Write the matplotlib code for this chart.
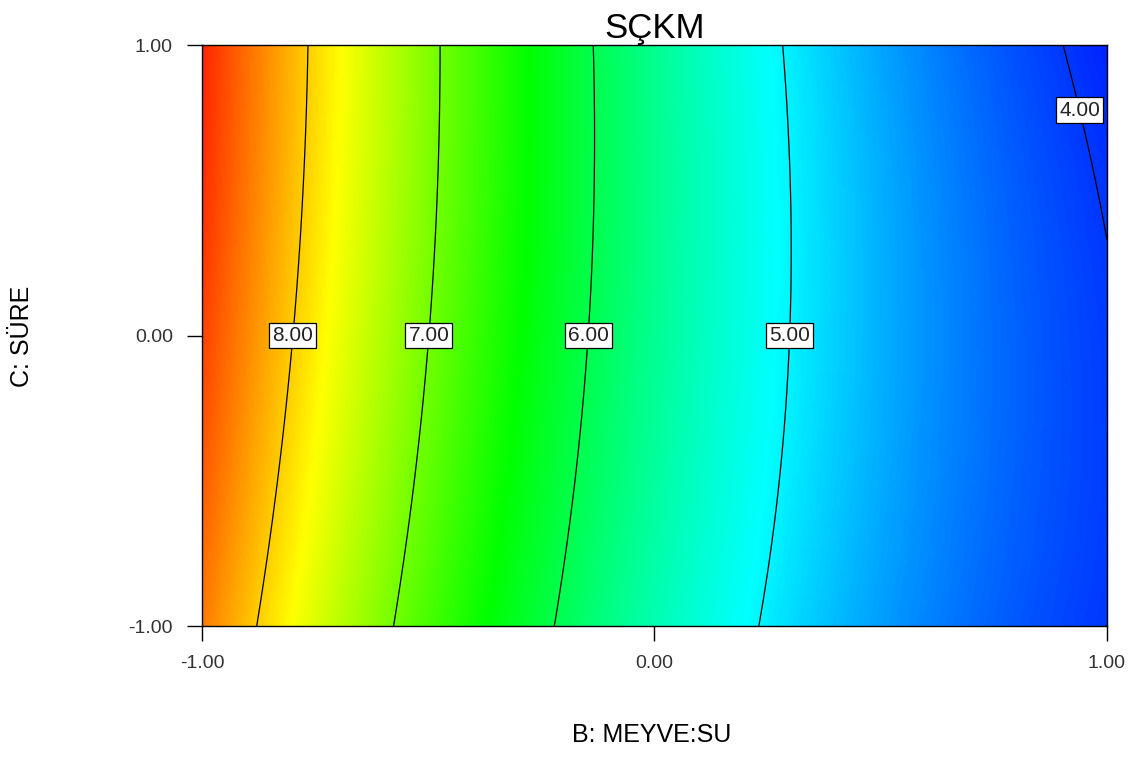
import numpy as np
import matplotlib
matplotlib.use('Agg')
import matplotlib.pyplot as plt
from matplotlib.colors import LinearSegmentedColormap

# quadratic model in coded units, read off the contour positions
# terms: intercept, B, C, B^2, C^2, BC
coef_names = ['b0', 'B', 'C', 'BB', 'CC', 'BC']
coef_vals = [5.638, -2.359, 0.088, 0.7466, -0.078, -0.140]
levels = [4.0, 5.0, 6.0, 7.0, 8.0]
# label spots (B, C) for each contour line
label_pos = [(0.95, 0.78), (0.30, 0.0), (-0.143, 0.0), (-0.496, 0.0), (-0.80, 0.0)]
ticks = [-1.0, 0.0, 1.0]
tick_labels = ['-1.00', '0.00', '1.00']

plt.rcParams['font.family'] = ['Liberation Sans', 'DejaVu Sans']

k = dict(zip(coef_names, coef_vals))
b = np.linspace(-1, 1, 500)
c = np.linspace(-1, 1, 300)
B, C = np.meshgrid(b, c)
Z = (k['b0'] + k['B'] * B + k['C'] * C + k['BB'] * B ** 2
     + k['CC'] * C ** 2 + k['BC'] * B * C)

cmap = LinearSegmentedColormap.from_list(
    'dx', [(0, 0, 1), (0, 1, 1), (0, 1, 0), (1, 1, 0), (1, 0, 0)])

fig = plt.figure(figsize=(11.3, 7.58), dpi=100)
ax = fig.add_axes([0.1788, 0.1741, 0.9796 - 0.1788, 0.9406 - 0.1741])
ax.imshow(Z, extent=[-1, 1, -1, 1], origin='lower', aspect='auto',
          cmap=cmap, vmin=3.7, vmax=9.1, interpolation='bilinear')
cs = ax.contour(B, C, Z, levels=levels, colors='black', linewidths=0.9)
txts = ax.clabel(cs, fmt='%.2f', manual=label_pos, inline=False, fontsize=15)
for t in txts:
    t.set_bbox(dict(boxstyle='square,pad=0.15', facecolor='white',
                    edgecolor='black', linewidth=0.9))
    t.set_rotation(0)
    t.set_color('#222222')

ax.set_xlim(-1, 1)
ax.set_ylim(-1, 1)
ax.set_xticks(ticks)
ax.set_xticklabels(tick_labels)
ax.set_yticks(ticks)
ax.set_yticklabels(tick_labels)
ax.tick_params(direction='out', length=11, width=1, labelsize=14,
               color='black', labelcolor='#333333', pad=10)
for s in ax.spines.values():
    s.set_linewidth(1)

ax.set_title('SÇKM', fontsize=25, pad=3)
fig.text(652 / 1130, 1 - 735 / 758, 'B: MEYVE:SU', fontsize=18,
         ha='center', va='center')
fig.text(22 / 1130, 1 - 336 / 758, 'C: SÜRE', fontsize=18,
         ha='center', va='center', rotation=90)

plt.savefig('out.png', dpi=100)
